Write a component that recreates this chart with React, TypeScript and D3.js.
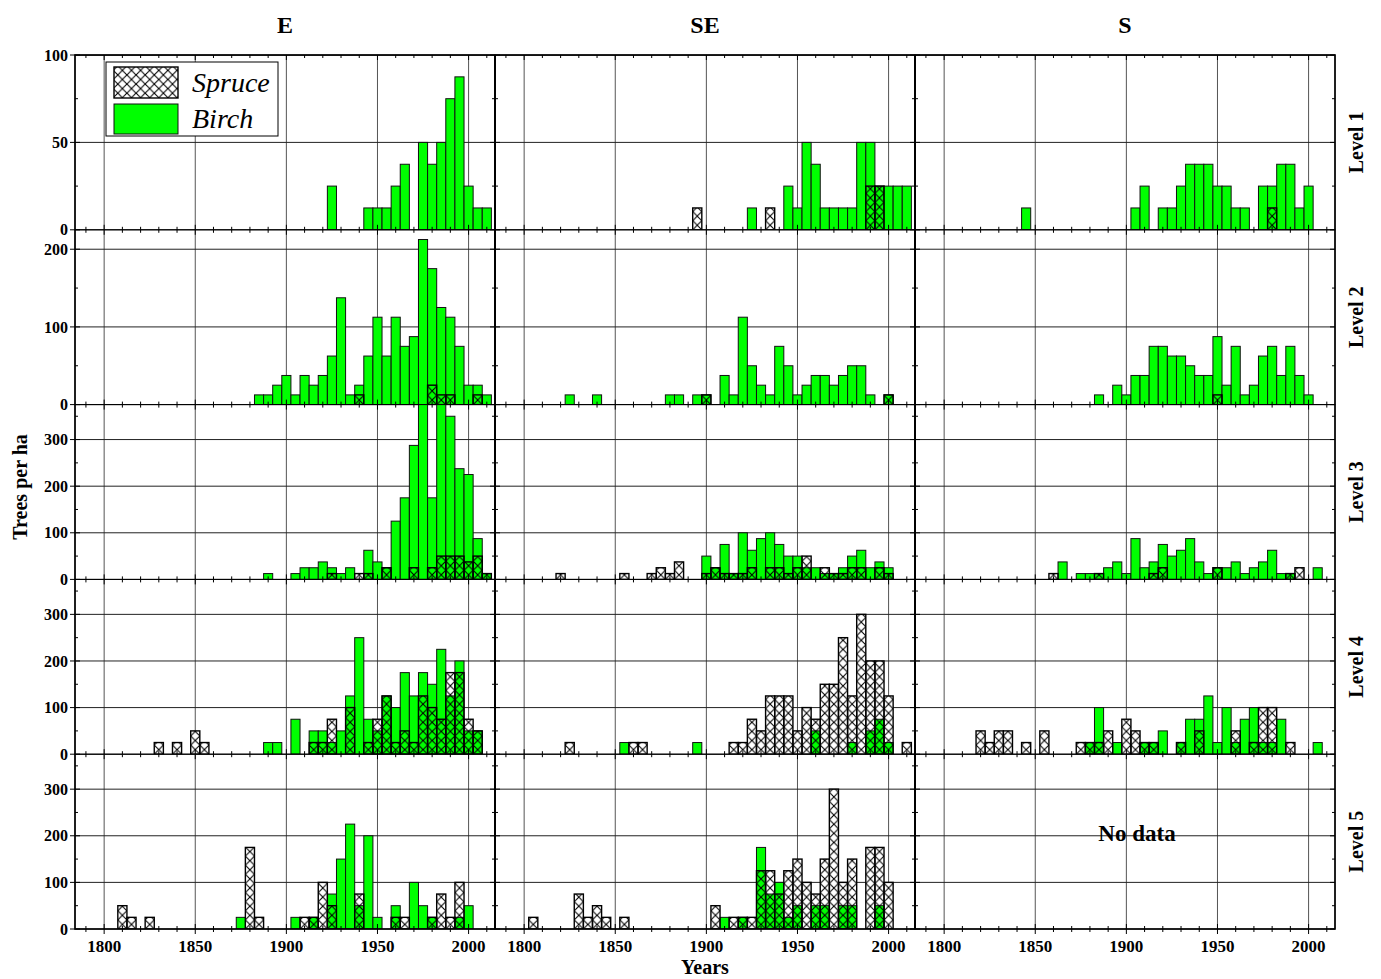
import React from "react";
import * as d3 from "d3";

// trees per ha by 5-year age class (class centre year)
const E1_birch = [[1925, 25], [1945, 12.5], [1950, 12.5], [1955, 12.5], [1960, 25], [1965, 37.5], [1975, 50], [1980, 37.5], [1985, 50], [1990, 75], [1995, 87.5], [2000, 25], [2005, 12.5], [2010, 12.5]];
const E1_spruce = [];
const E2_birch = [[1885, 12.5], [1890, 12.5], [1895, 25], [1900, 37.5], [1905, 12.5], [1910, 37.5], [1915, 25], [1920, 37.5], [1925, 62.5], [1930, 137.5], [1935, 12.5], [1940, 25], [1945, 62.5], [1950, 112.5], [1955, 62.5], [1960, 112.5], [1965, 75], [1970, 87.5], [1975, 212.5], [1980, 175], [1985, 125], [1990, 112.5], [1995, 75], [2000, 25], [2005, 25], [2010, 12.5]];
const E2_spruce = [[1940, 12.5], [1980, 25], [1985, 12.5], [1990, 12.5], [2005, 12.5]];
const E3_birch = [[1890, 12.5], [1905, 12.5], [1910, 25], [1915, 25], [1920, 37.5], [1925, 25], [1930, 12.5], [1935, 25], [1945, 62.5], [1950, 37.5], [1955, 25], [1960, 125], [1965, 175], [1970, 287.5], [1975, 400], [1980, 175], [1985, 400], [1990, 350], [1995, 237.5], [2000, 225], [2005, 87.5], [2010, 12.5]];
const E3_spruce = [[1925, 12.5], [1940, 12.5], [1945, 12.5], [1955, 25], [1970, 25], [1980, 25], [1985, 50], [1990, 50], [1995, 50], [2000, 37.5], [2005, 50], [2010, 12.5]];
const E4_birch = [[1890, 25], [1895, 25], [1905, 75], [1915, 50], [1920, 50], [1925, 25], [1930, 50], [1935, 125], [1940, 250], [1945, 75], [1950, 50], [1955, 125], [1960, 100], [1965, 175], [1970, 125], [1975, 175], [1980, 150], [1985, 225], [1990, 125], [1995, 200], [2000, 50], [2005, 50]];
const E4_spruce = [[1830, 25], [1840, 25], [1850, 50], [1855, 25], [1915, 25], [1920, 25], [1925, 75], [1935, 100], [1945, 25], [1950, 75], [1955, 125], [1960, 25], [1965, 50], [1970, 25], [1975, 125], [1980, 100], [1985, 75], [1990, 175], [1995, 175], [2000, 75], [2005, 50]];
const E5_birch = [[1875, 25], [1905, 25], [1915, 25], [1925, 75], [1930, 150], [1935, 225], [1940, 50], [1945, 200], [1950, 25], [1960, 50], [1970, 100], [1975, 50], [1980, 25], [1995, 25], [2000, 50]];
const E5_spruce = [[1810, 50], [1815, 25], [1825, 25], [1880, 175], [1885, 25], [1910, 25], [1915, 25], [1920, 100], [1925, 50], [1940, 75], [1960, 25], [1965, 25], [1980, 25], [1985, 75], [1990, 25], [1995, 100]];

const SE1_birch = [[1925, 12.5], [1945, 25], [1950, 12.5], [1955, 50], [1960, 37.5], [1965, 12.5], [1970, 12.5], [1975, 12.5], [1980, 12.5], [1985, 50], [1990, 50], [1995, 25], [2000, 25], [2005, 25], [2010, 25]];
const SE1_spruce = [[1895, 12.5], [1935, 12.5], [1990, 25], [1995, 25]];
const SE2_birch = [[1825, 12.5], [1840, 12.5], [1880, 12.5], [1885, 12.5], [1895, 12.5], [1900, 12.5], [1910, 37.5], [1915, 12.5], [1920, 112.5], [1925, 50], [1930, 25], [1935, 12.5], [1940, 75], [1945, 50], [1950, 12.5], [1955, 25], [1960, 37.5], [1965, 37.5], [1970, 25], [1975, 37.5], [1980, 50], [1985, 50], [1990, 12.5], [2000, 12.5]];
const SE2_spruce = [[1900, 12.5], [2000, 12.5]];
const SE3_birch = [[1900, 50], [1905, 25], [1910, 75], [1915, 12.5], [1920, 100], [1925, 62.5], [1930, 87.5], [1935, 100], [1940, 75], [1945, 50], [1950, 50], [1955, 25], [1960, 25], [1965, 12.5], [1970, 12.5], [1975, 25], [1980, 50], [1985, 62.5], [1990, 25], [1995, 37.5], [2000, 25]];
const SE3_spruce = [[1820, 12.5], [1855, 12.5], [1870, 12.5], [1875, 25], [1880, 12.5], [1885, 37.5], [1900, 12.5], [1905, 25], [1910, 12.5], [1915, 12.5], [1920, 12.5], [1925, 25], [1935, 25], [1940, 25], [1945, 12.5], [1950, 25], [1955, 50], [1965, 25], [1970, 12.5], [1975, 12.5], [1980, 25], [1985, 25], [1995, 25], [2000, 12.5]];
const SE4_birch = [[1855, 25], [1895, 25], [1960, 50], [1980, 25], [1990, 50], [1995, 75], [2000, 25]];
const SE4_spruce = [[1825, 25], [1860, 25], [1865, 25], [1915, 25], [1920, 25], [1925, 75], [1930, 50], [1935, 125], [1940, 125], [1945, 125], [1950, 50], [1955, 100], [1960, 75], [1965, 150], [1970, 150], [1975, 250], [1980, 125], [1985, 300], [1990, 200], [1995, 200], [2000, 125], [2010, 25]];
const SE5_birch = [[1910, 25], [1920, 25], [1930, 175], [1935, 75], [1940, 100], [1945, 25], [1950, 50], [1960, 50], [1965, 50], [1975, 50], [1980, 50], [1995, 50]];
const SE5_spruce = [[1805, 25], [1830, 75], [1835, 25], [1840, 50], [1845, 25], [1855, 25], [1905, 50], [1915, 25], [1920, 25], [1925, 25], [1930, 125], [1935, 125], [1940, 75], [1945, 125], [1950, 150], [1955, 100], [1960, 75], [1965, 150], [1970, 300], [1975, 100], [1980, 150], [1990, 175], [1995, 175], [2000, 100]];

const S1_birch = [[1845, 12.5], [1905, 12.5], [1910, 25], [1920, 12.5], [1925, 12.5], [1930, 25], [1935, 37.5], [1940, 37.5], [1945, 37.5], [1950, 25], [1955, 25], [1960, 12.5], [1965, 12.5], [1975, 25], [1980, 25], [1985, 37.5], [1990, 37.5], [1995, 12.5], [2000, 25]];
const S1_spruce = [[1980, 12.5]];
const S2_birch = [[1885, 12.5], [1895, 25], [1900, 12.5], [1905, 37.5], [1910, 37.5], [1915, 75], [1920, 75], [1925, 62.5], [1930, 62.5], [1935, 50], [1940, 37.5], [1945, 37.5], [1950, 87.5], [1955, 25], [1960, 75], [1965, 12.5], [1970, 25], [1975, 62.5], [1980, 75], [1985, 37.5], [1990, 75], [1995, 37.5], [2000, 12.5]];
const S2_spruce = [[1950, 12.5]];
const S3_birch = [[1865, 37.5], [1875, 12.5], [1880, 12.5], [1885, 12.5], [1890, 25], [1895, 37.5], [1900, 12.5], [1905, 87.5], [1910, 25], [1915, 37.5], [1920, 75], [1925, 50], [1930, 62.5], [1935, 87.5], [1940, 37.5], [1945, 12.5], [1950, 25], [1955, 25], [1960, 37.5], [1965, 12.5], [1970, 25], [1975, 37.5], [1980, 62.5], [1985, 12.5], [1990, 12.5], [2005, 25]];
const S3_spruce = [[1860, 12.5], [1885, 12.5], [1915, 12.5], [1920, 25], [1950, 25], [1990, 12.5], [1995, 25]];
const S4_birch = [[1880, 25], [1885, 100], [1895, 25], [1910, 25], [1915, 25], [1920, 50], [1930, 25], [1935, 75], [1940, 75], [1945, 125], [1950, 25], [1955, 100], [1960, 25], [1965, 75], [1970, 100], [1975, 25], [1980, 25], [1985, 75], [2005, 25]];
const S4_spruce = [[1820, 50], [1825, 25], [1830, 50], [1835, 50], [1845, 25], [1855, 50], [1875, 25], [1880, 25], [1885, 25], [1890, 50], [1900, 75], [1905, 50], [1910, 25], [1915, 25], [1930, 25], [1940, 50], [1960, 50], [1970, 25], [1975, 100], [1980, 100], [1990, 25]];

const columns = ["E", "SE", "S"];
const levels = ["Level 1", "Level 2", "Level 3", "Level 4", "Level 5"];
const yMax = [100, 225, 375, 375, 375];
const yMajor = [[0, 50, 100], [0, 100, 200], [0, 100, 200, 300], [0, 100, 200, 300], [0, 100, 200, 300]];
const yMinor = [[25, 75], [50, 150], [50, 150, 250, 350], [50, 150, 250, 350], [50, 150, 250, 350]];
const xLabels = [1800, 1850, 1900, 1950, 2000];

const panels = [
  [{ birch: E1_birch, spruce: E1_spruce }, { birch: SE1_birch, spruce: SE1_spruce }, { birch: S1_birch, spruce: S1_spruce }],
  [{ birch: E2_birch, spruce: E2_spruce }, { birch: SE2_birch, spruce: SE2_spruce }, { birch: S2_birch, spruce: S2_spruce }],
  [{ birch: E3_birch, spruce: E3_spruce }, { birch: SE3_birch, spruce: SE3_spruce }, { birch: S3_birch, spruce: S3_spruce }],
  [{ birch: E4_birch, spruce: E4_spruce }, { birch: SE4_birch, spruce: SE4_spruce }, { birch: S4_birch, spruce: S4_spruce }],
  [{ birch: E5_birch, spruce: E5_spruce }, { birch: SE5_birch, spruce: SE5_spruce }, null],
];

const FONT = "'Liberation Serif', 'Times New Roman', serif";
const GREEN = "#00ff00";
const left = 75, top = 55, colW = 420, rowH = 174.8;

export default function App() {
  const x = d3.scaleLinear().domain([1784, 2014.5]).range([0, colW]);
  const bw = x(1805) - x(1800);
  const xMinor = d3.range(1790, 2011, 10);
  const bar = (d, y) => ({ x: x(d[0] - 2.5), y: y(d[1]), width: bw, height: rowH - y(d[1]) });

  return (
    <svg width={1381} height={979} style={{ position: "absolute", left: 0, top: 0, background: "#fff" }} fontFamily={FONT}>
      <defs>
        <pattern id="hatch" patternUnits="userSpaceOnUse" x={x(1807.5)} y={rowH} width={bw} height={bw}>
          <path d={`M0,0L${bw},${bw}M0,${bw}L${bw},0`} stroke="#000" strokeWidth={1.1} fill="none" />
        </pattern>
        <clipPath id="panelclip"><rect width={colW} height={rowH} /></clipPath>
      </defs>

      {columns.map((c, i) => (
        <text key={c} x={left + colW * i + colW / 2} y={33} textAnchor="middle" fontSize={24} fontWeight="bold">{c}</text>
      ))}

      {panels.map((row, r) => {
        const y = d3.scaleLinear().domain([0, yMax[r]]).range([rowH, 0]);
        return row.map((p, c) => (
          <g key={`${r}-${c}`} transform={`translate(${left + c * colW},${top + r * rowH})`}>
            <g clipPath="url(#panelclip)">
              {xLabels.map(v => (
                <line key={v} x1={x(v)} x2={x(v)} y1={0} y2={rowH} stroke="#555" strokeWidth={1} />
              ))}
              {yMajor[r].filter(v => v > 0).map(v => (
                <line key={v} x1={0} x2={colW} y1={y(v)} y2={y(v)} stroke="#222" strokeWidth={1} />
              ))}
              {p && p.spruce.map(d => <rect key={"w" + d[0]} {...bar(d, y)} fill="#fff" />)}
              {p && p.birch.map(d => <rect key={"b" + d[0]} {...bar(d, y)} fill={GREEN} stroke="#111" strokeWidth={1} />)}
              {p && p.spruce.map(d => <rect key={"s" + d[0]} {...bar(d, y)} fill="url(#hatch)" stroke="#000" strokeWidth={1.4} />)}
            </g>
            {xMinor.map(v => {
              const len = v % 50 === 0 ? 5 : 3;
              return <g key={"xt" + v}>
                <line x1={x(v)} x2={x(v)} y1={0} y2={len} stroke="#000" />
                <line x1={x(v)} x2={x(v)} y1={rowH} y2={rowH - len} stroke="#000" />
              </g>;
            })}
            {[...yMajor[r].map(v => [v, 5]), ...yMinor[r].map(v => [v, 3])].map(([v, len]) => (
              <g key={"yt" + v}>
                <line x1={0} x2={len} y1={y(v)} y2={y(v)} stroke="#000" />
                <line x1={colW} x2={colW - len} y1={y(v)} y2={y(v)} stroke="#000" />
              </g>
            ))}
            {c === 0 && yMajor[r].map(v => (
              <g key={"yl" + v}>
                <line x1={-5} x2={0} y1={y(v)} y2={y(v)} stroke="#000" />
                <text x={-7} y={y(v)} dy="0.35em" textAnchor="end" fontSize={16} fontWeight="bold">{v}</text>
              </g>
            ))}
            {r === 4 && xMinor.map(v => (
              <line key={"xo" + v} x1={x(v)} x2={x(v)} y1={rowH} y2={rowH + (v % 50 === 0 ? 5 : 3)} stroke="#000" />
            ))}
            {r === 4 && xLabels.map(v => (
              <text key={"xl" + v} x={x(v)} y={rowH + 23} textAnchor="middle" fontSize={17} fontWeight="bold">{v}</text>
            ))}
            {!p && (
              <text x={colW / 2 + 12} y={rowH / 2 - 1} textAnchor="middle" fontSize={23} fontWeight="bold">No data</text>
            )}
            <rect width={colW} height={rowH} fill="none" stroke="#000" strokeWidth={1} />
            {r === 0 && c === 0 && (
              <g>
                <rect x={31} y={7} width={172} height={74} fill="#fff" stroke="#000" strokeWidth={1} />
                <rect x={39} y={12} width={64} height={31} fill="url(#hatch)" stroke="#000" strokeWidth={1.4} />
                <rect x={39} y={49} width={64} height={30} fill={GREEN} stroke="#111" strokeWidth={1} />
                <text x={117} y={37} fontSize={28} fontStyle="italic">Spruce</text>
                <text x={117} y={73} fontSize={28} fontStyle="italic">Birch</text>
              </g>
            )}
          </g>
        ));
      })}

      {levels.map((l, r) => (
        <text key={l} transform={`translate(1363,${top + r * rowH + rowH / 2}) rotate(-90)`} textAnchor="middle" fontSize={20} fontWeight="bold">{l}</text>
      ))}
      <line x1={left + colW} x2={left + colW} y1={top} y2={top + 5 * rowH} stroke="#000" strokeWidth={2} />
      <line x1={left + 2 * colW} x2={left + 2 * colW} y1={top} y2={top + 5 * rowH} stroke="#000" strokeWidth={2} />
      <rect x={left} y={top} width={3 * colW} height={5 * rowH} fill="none" stroke="#000" strokeWidth={1.5} />
      <text x={left + colW * 1.5} y={974} textAnchor="middle" fontSize={20} fontWeight="bold">Years</text>
      <text transform={`translate(27,487) rotate(-90)`} textAnchor="middle" fontSize={20} fontWeight="bold">Trees per ha</text>
    </svg>
  );
}
